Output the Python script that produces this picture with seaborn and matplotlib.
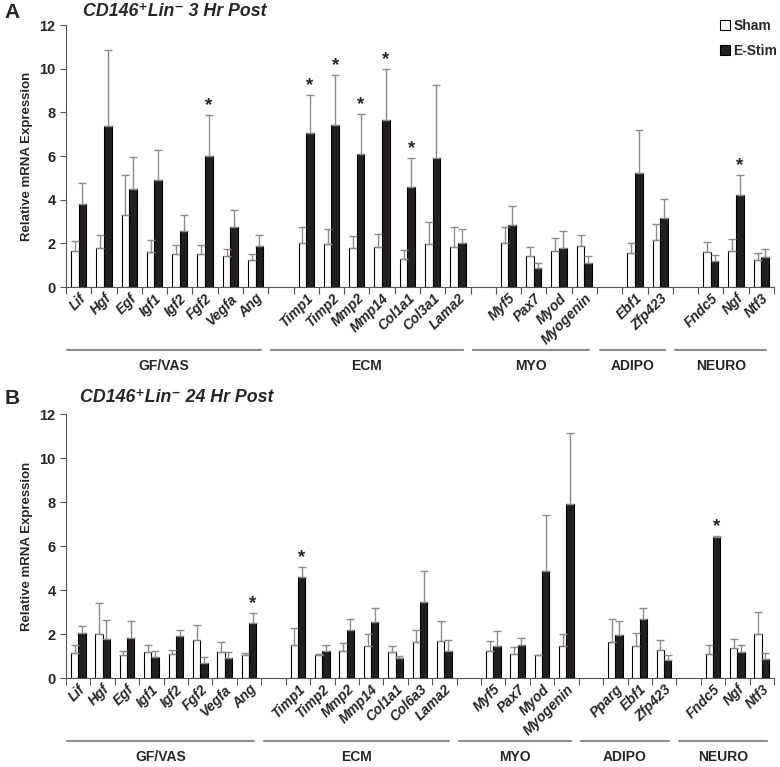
import numpy as np
import pandas as pd
import seaborn as sns
import matplotlib.pyplot as plt
import matplotlib.transforms as mtransforms
from matplotlib.patches import Patch

groups = ["GF/VAS", "ECM", "MYO", "ADIPO", "NEURO"]
conds = ["Sham", "E-Stim"]

# panel A : CD146+Lin- 3 h post
genes_a = ["Lif", "Hgf", "Egf", "Igf1", "Igf2", "Fgf2", "Vegfa", "Ang",
           "Timp1", "Timp2", "Mmp2", "Mmp14", "Col1a1", "Col3a1", "Lama2",
           "Myf5", "Pax7", "Myod", "Myogenin",
           "Ebf1", "Zfp423",
           "Fndc5", "Ngf", "Ntf3"]
sizes_a = [8, 7, 4, 2, 3]
sham_a = [1.65, 1.78, 3.31, 1.62, 1.49, 1.52, 1.42, 1.25,
          2.01, 1.97, 1.78, 1.84, 1.28, 1.98, 1.84,
          2.01, 1.42, 1.66, 1.87,
          1.55, 2.16,
          1.60, 1.65, 1.23]
sham_sem_a = [0.47, 0.61, 1.80, 0.54, 0.43, 0.40, 0.33, 0.26,
              0.76, 0.68, 0.54, 0.60, 0.41, 1.02, 0.90,
              0.73, 0.39, 0.58, 0.52,
              0.45, 0.74,
              0.47, 0.55, 0.31]
estim_a = [3.81, 7.36, 4.50, 4.89, 2.56, 5.98, 2.74, 1.86,
           7.06, 7.44, 6.08, 7.64, 4.60, 5.93, 2.01,
           2.84, 0.88, 1.80, 1.08,
           5.20, 3.17,
           1.17, 4.20, 1.37]
estim_sem_a = [0.96, 3.51, 1.46, 1.39, 0.75, 1.89, 0.78, 0.50,
               1.74, 2.29, 1.83, 2.33, 1.33, 3.34, 0.63,
               0.86, 0.20, 0.78, 0.35,
               1.98, 0.88,
               0.28, 0.94, 0.38]
sig_a = ["Fgf2", "Timp1", "Timp2", "Mmp2", "Mmp14", "Col1a1", "Ngf"]

# panel B : CD146+Lin- 24 h post
genes_b = ["Lif", "Hgf", "Egf", "Igf1", "Igf2", "Fgf2", "Vegfa", "Ang",
           "Timp1", "Timp2", "Mmp2", "Mmp14", "Col1a1", "Col6a3", "Lama2",
           "Myf5", "Pax7", "Myod", "Myogenin",
           "Pparg", "Ebf1", "Zfp423",
           "Fndc5", "Ngf", "Ntf3"]
sizes_b = [8, 7, 4, 3, 3]
sham_b = [1.14, 2.00, 1.03, 1.17, 1.10, 1.71, 1.20, 1.03,
          1.48, 1.06, 1.24, 1.44, 1.18, 1.62, 1.68,
          1.24, 1.10, 1.05, 1.44,
          1.65, 1.45, 1.27,
          1.10, 1.36, 2.00]
sham_sem_b = [0.34, 1.39, 0.18, 0.31, 0.19, 0.71, 0.44, 0.12,
              0.78, 0.03, 0.35, 0.58, 0.27, 0.55, 0.91,
              0.43, 0.31, 0.01, 0.58,
              1.02, 0.61, 0.46,
              0.40, 0.43, 1.00]
estim_b = [2.05, 1.77, 1.82, 0.95, 1.92, 0.68, 0.92, 2.50,
           4.59, 1.24, 2.18, 2.56, 0.89, 3.45, 1.21,
           1.45, 1.48, 4.88, 7.89,
           1.94, 2.68, 0.82,
           6.41, 1.18, 0.88]
estim_sem_b = [0.30, 0.87, 0.78, 0.29, 0.26, 0.26, 0.25, 0.44,
               0.47, 0.24, 0.50, 0.62, 0.11, 1.41, 0.53,
               0.67, 0.32, 2.53, 3.23,
               0.65, 0.49, 0.21,
               0.06, 0.30, 0.24]
sig_b = ["Ang", "Timp1", "Fndc5"]

sns.set_style("ticks")
plt.rcParams["font.family"] = ["Liberation Sans", "DejaVu Sans"]
plt.rcParams["font.weight"] = "bold"
plt.rcParams["axes.labelweight"] = "bold"

GREY = "#8c8c8c"


def draw_panel(ax, genes, sizes, sham, sham_sem, estim, estim_sem, sig):
    # slot order, one blank column between gene groups
    order, slot_of, firsts, lasts = [], {}, [], []
    k = 0
    for g, n in enumerate(sizes):
        if g:
            order.append(f"_gap{g}")
        firsts.append(len(order))
        for name in genes[k:k + n]:
            slot_of[name] = len(order)
            order.append(name)
        lasts.append(len(order) - 1)
        k += n

    df = pd.DataFrame({
        "gene": genes * 2,
        "cond": ["Sham"] * len(genes) + ["E-Stim"] * len(genes),
        "value": sham + estim,
        "sem": sham_sem + estim_sem,
    })
    sns.barplot(data=df, x="gene", y="value", hue="cond", order=order,
                hue_order=conds, palette={"Sham": "white", "E-Stim": "#231f20"},
                edgecolor="black", linewidth=0.8, width=0.6, gap=0,
                saturation=1, errorbar=None, legend=False, ax=ax)

    # one sided error bars (mean + SEM) and significance stars
    sem_of = {(r.gene, r.cond): r.sem for r in df.itertuples()}
    for cont, cond in zip(ax.containers, conds):
        for p in cont:
            cx = p.get_x() + p.get_width() / 2
            name = order[int(round(cx))]
            h = p.get_height()
            e = sem_of[(name, cond)]
            ax.errorbar(cx, h, yerr=[[0], [e]], fmt="none", ecolor=GREY,
                        elinewidth=1, capsize=3, capthick=1)
            if cond == "E-Stim" and name in sig:
                ax.text(cx, h + e + 0.22, "*", ha="center", va="baseline",
                        fontsize=13.5, fontweight="bold")

    n = len(order)
    ax.set_xlim(-0.5, n - 0.5)
    ax.set_ylim(0, 12)
    ax.set_yticks(range(0, 13, 2))
    ax.set_xticks(np.arange(-0.5, n), labels=[""] * (n + 1))
    ax.set_xticks([slot_of[g] for g in genes], labels=genes, minor=True)
    ax.tick_params(axis="x", which="major", length=5, color="#555555")
    ax.tick_params(axis="x", which="minor", length=0, pad=3)
    ax.tick_params(axis="y", length=4, color="#555555", labelsize=10.5)
    for lab in ax.get_xticklabels(minor=True):
        lab.set(rotation=45, ha="right", va="top", rotation_mode="anchor",
                fontstyle="italic", fontsize=10)
    ax.set_xlabel("")
    ax.set_ylabel("Relative mRNA Expression", fontsize=9.5)
    ax.yaxis.set_label_coords(-0.047, 0.5)
    sns.despine(ax=ax)
    for s in ["left", "bottom"]:
        ax.spines[s].set_color("#555555")

    # group brackets under the gene names
    trans = mtransforms.blended_transform_factory(ax.transData, ax.transAxes)
    for name, a, b in zip(groups, firsts, lasts):
        x0 = max(a - 1.4, -0.45)
        x1 = b + 0.2
        ax.plot([x0, x1], [-0.24, -0.24], transform=trans, clip_on=False,
                color=GREY, lw=1.5)
        ax.text((x0 + x1) / 2, -0.30, name, transform=trans, ha="center",
                va="center", fontsize=10)


fig = plt.figure(figsize=(7.8, 7.67), dpi=100)
ax_a = fig.add_axes([0.0846, 0.6258, 0.9077, 0.3416])
ax_b = fig.add_axes([0.0846, 0.1160, 0.9077, 0.3442])

draw_panel(ax_a, genes_a, sizes_a, sham_a, sham_sem_a, estim_a, estim_sem_a, sig_a)
draw_panel(ax_b, genes_b, sizes_b, sham_b, sham_sem_b, estim_b, estim_sem_b, sig_b)

handles = [Patch(facecolor="white", edgecolor="black", lw=0.8),
           Patch(facecolor="#231f20", edgecolor="black", lw=0.8)]
ax_a.legend(handles, conds, loc="upper right", bbox_to_anchor=(1.022, 1.07),
            frameon=False, handlelength=0.7, handleheight=0.7,
            handletextpad=0.25, labelspacing=0.75, fontsize=10)

fig.text(0.006, 1 - 12 / 767, "A", fontsize=15, fontweight="bold", va="center")
fig.text(83 / 780, 1 - 11 / 767, "CD146\u207aLin\u207b 3 Hr Post", fontsize=12.8,
         fontweight="bold", fontstyle="italic", va="center")
fig.text(0.006, 1 - 398 / 767, "B", fontsize=15, fontweight="bold", va="center")
fig.text(80 / 780, 1 - 397 / 767, "CD146\u207aLin\u207b 24 Hr Post", fontsize=12.8,
         fontweight="bold", fontstyle="italic", va="center")

fig.savefig("out.png", dpi=100)
